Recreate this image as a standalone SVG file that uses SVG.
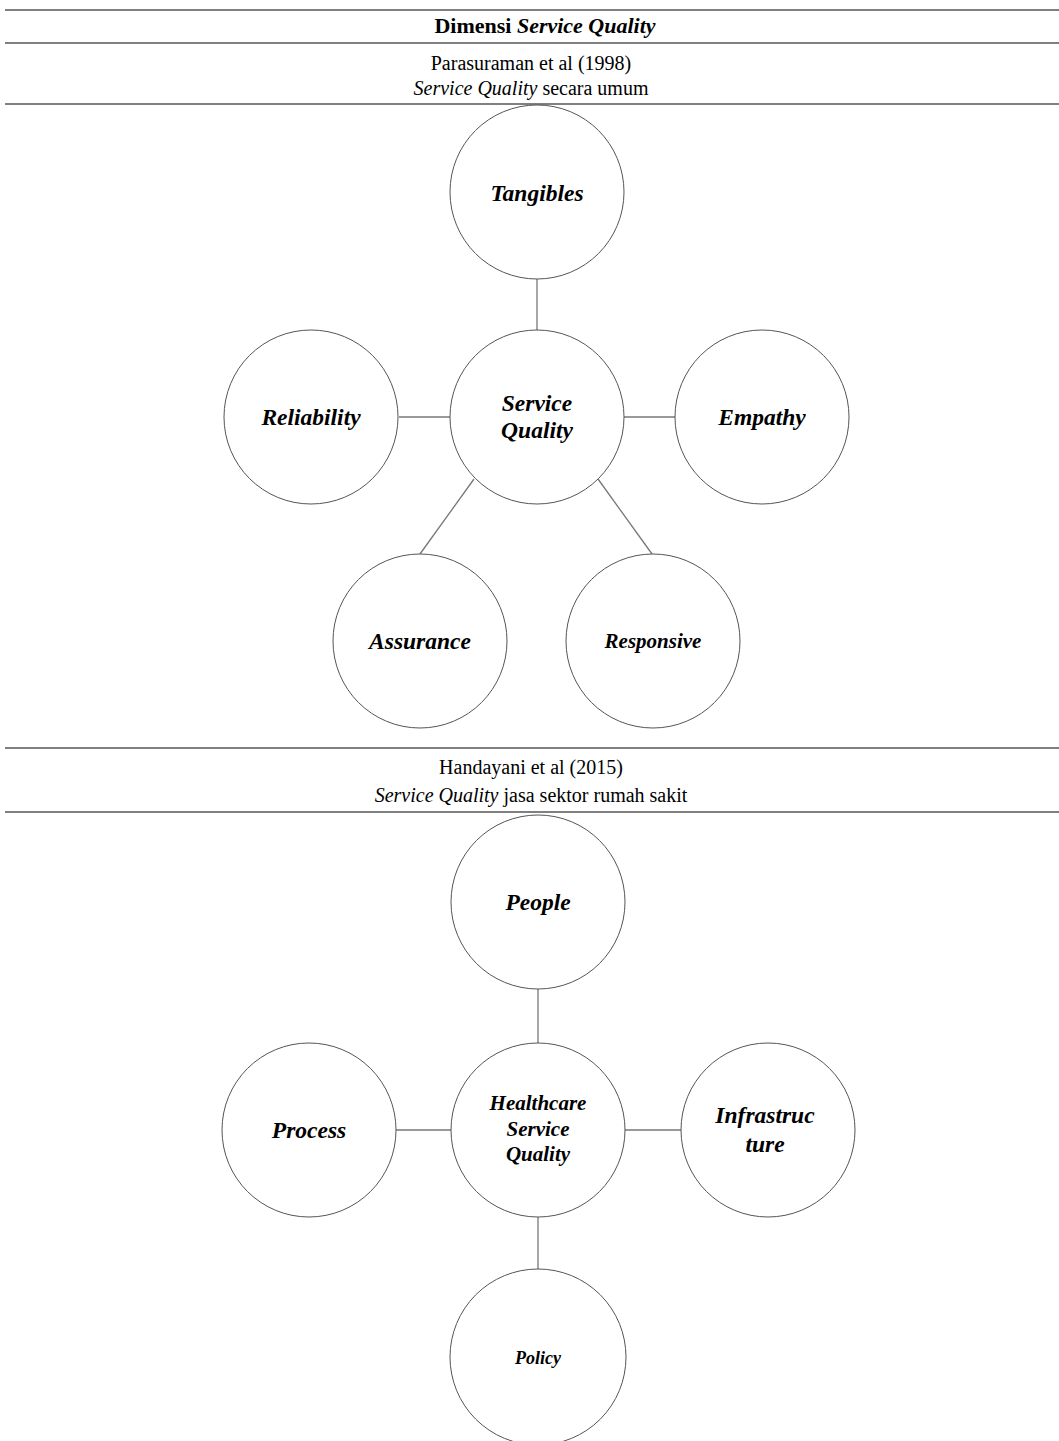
<svg xmlns="http://www.w3.org/2000/svg" width="1059" height="1441" viewBox="0 0 1059 1441">
  <style>
    .rule { stroke: #808080; stroke-width: 2; fill: none; }
    .node { fill: #ffffff; stroke: #555555; stroke-width: 1; }
    .edge { stroke: #777777; stroke-width: 1.3; fill: none; }
    .hdr { font-family: "Liberation Serif", "Times New Roman", serif; font-size: 20px; fill: #000; text-anchor: middle; }
    .title { font-size: 22px; font-weight: bold; }
    .lbl { font-family: "Liberation Serif", "Times New Roman", serif; font-size: 23.5px; font-weight: bold; font-style: italic; fill: #000; text-anchor: middle; }
    .md { font-size: 21px; }
    .sm { font-size: 18px; }
  </style>

  <!-- table rules -->
  <g id="rules">
    <line class="rule" x1="5" y1="10" x2="1059" y2="10"/>
    <line class="rule" x1="5" y1="43" x2="1059" y2="43"/>
    <line class="rule" x1="5" y1="104" x2="1059" y2="104"/>
    <line class="rule" x1="5" y1="748" x2="1059" y2="748"/>
    <line class="rule" x1="5" y1="812" x2="1059" y2="812"/>
  </g>

  <!-- table headings -->
  <g id="headings">
    <text class="hdr title" x="545" y="33">Dimensi <tspan font-style="italic">Service Quality</tspan></text>
    <text class="hdr" x="531" y="70">Parasuraman et al (1998)</text>
    <text class="hdr" x="531" y="95"><tspan font-style="italic">Service Quality</tspan> secara umum</text>
    <text class="hdr" x="531" y="774">Handayani et al (2015)</text>
    <text class="hdr" x="531" y="802"><tspan font-style="italic">Service Quality</tspan> jasa sektor rumah sakit</text>
  </g>

  <!-- connectors -->
  <g id="connectors">
    <line class="edge" x1="537" y1="279" x2="537" y2="330"/>
    <line class="edge" x1="399" y1="417" x2="450" y2="417"/>
    <line class="edge" x1="624" y1="417" x2="675" y2="417"/>
    <line class="edge" x1="474" y1="479" x2="420" y2="554"/>
    <line class="edge" x1="598" y1="479" x2="652" y2="554"/>
    <line class="edge" x1="538" y1="989" x2="538" y2="1043"/>
    <line class="edge" x1="396" y1="1130" x2="451" y2="1130"/>
    <line class="edge" x1="625" y1="1130" x2="681" y2="1130"/>
    <line class="edge" x1="538" y1="1217" x2="538" y2="1270"/>
  </g>

  <!-- Parasuraman model -->
  <g id="tangibles">
    <circle class="node" cx="537" cy="192" r="87"/>
    <text class="lbl" x="537" y="201">Tangibles</text>
  </g>
  <g id="service-quality">
    <circle class="node" cx="537" cy="417" r="87"/>
    <text class="lbl" x="537" y="411">Service</text>
    <text class="lbl" x="537" y="438">Quality</text>
  </g>
  <g id="reliability">
    <circle class="node" cx="311" cy="417" r="87"/>
    <text class="lbl" x="311" y="425">Reliability</text>
  </g>
  <g id="empathy">
    <circle class="node" cx="762" cy="417" r="87"/>
    <text class="lbl" x="762" y="425">Empathy</text>
  </g>
  <g id="assurance">
    <circle class="node" cx="420" cy="641" r="87"/>
    <text class="lbl" x="420" y="649">Assurance</text>
  </g>
  <g id="responsive">
    <circle class="node" cx="653" cy="641" r="87"/>
    <text class="lbl md" x="653" y="648">Responsive</text>
  </g>

  <!-- Handayani model -->
  <g id="people">
    <circle class="node" cx="538" cy="902" r="87"/>
    <text class="lbl" x="538" y="910">People</text>
  </g>
  <g id="healthcare-service-quality">
    <circle class="node" cx="538" cy="1130" r="87"/>
    <text class="lbl md" x="538" y="1110">Healthcare</text>
    <text class="lbl md" x="538" y="1136">Service</text>
    <text class="lbl md" x="538" y="1161">Quality</text>
  </g>
  <g id="process">
    <circle class="node" cx="309" cy="1130" r="87"/>
    <text class="lbl" x="309" y="1138">Process</text>
  </g>
  <g id="infrastructure">
    <circle class="node" cx="768" cy="1130" r="87"/>
    <text class="lbl" x="765" y="1123">Infrastruc</text>
    <text class="lbl" x="765" y="1152">ture</text>
  </g>
  <g id="policy">
    <circle class="node" cx="538" cy="1357" r="88"/>
    <text class="lbl sm" x="538" y="1364">Policy</text>
  </g>
</svg>
